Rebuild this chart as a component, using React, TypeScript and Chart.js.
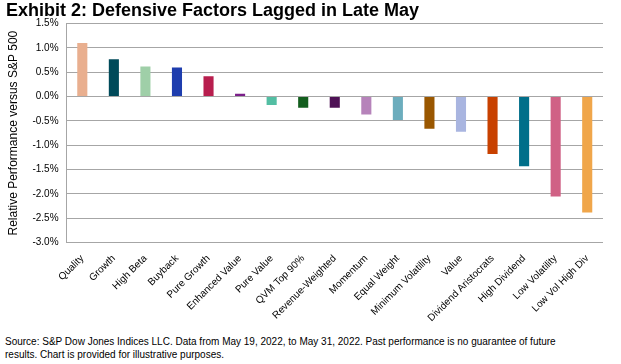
import React, { useEffect, useRef } from "react";
import { Chart, registerables } from "chart.js";

Chart.register(...registerables);

const categories = [
  "Quality", "Growth", "High Beta", "Buyback", "Pure Growth", "Enhanced Value",
  "Pure Value", "QVM Top 90%", "Revenue-Weighted", "Momentum", "Equal Weight",
  "Minimum Volatility", "Value", "Dividend Aristocrats", "High Dividend",
  "Low Volatility", "Low Vol High Div",
];
const relativePerformance = [
  1.1, 0.77, 0.62, 0.6, 0.42, 0.06, -0.17, -0.23, -0.23, -0.37, -0.48,
  -0.66, -0.72, -1.18, -1.43, -2.05, -2.38,
];
const barColors = [
  "#E9AF8F", "#004A5A", "#9FCFA8", "#1E3DAE", "#B81E4E", "#7B1F8A",
  "#53BEA3", "#135E1E", "#4E1155", "#B683BA", "#6CADBD", "#9A5700",
  "#A9B5E0", "#C84100", "#006F8A", "#D06185", "#F0A64A",
];
const yMin = -3.0;
const yMax = 1.5;
const yStep = 0.5;

const titleText = "Exhibit 2: Defensive Factors Lagged in Late May";
const yAxisTitle = "Relative Performance versus S&P 500";
const footerLines = [
  "Source: S&P Dow Jones Indices LLC. Data from May 19, 2022, to May 31, 2022. Past performance is no guarantee of future",
  "results. Chart is provided for illustrative purposes.",
];

const FONT = "Arial, 'Liberation Sans', sans-serif";

export default function App() {
  const ref = useRef<HTMLCanvasElement | null>(null);
  useEffect(() => {
    document.body.style.margin = "0";
    const chart = new Chart(ref.current!, {
      type: "bar",
      data: {
        labels: categories,
        datasets: [
          {
            data: relativePerformance,
            backgroundColor: barColors,
            barPercentage: 0.32,
            categoryPercentage: 1,
          },
        ],
      },
      options: {
        animation: false,
        responsive: false,
        maintainAspectRatio: false,
        layout: { padding: { left: 6, right: 18, top: 0, bottom: 0 } },
        plugins: {
          legend: { display: false },
          tooltip: { enabled: false },
          title: {
            display: true,
            text: titleText,
            align: "start",
            color: "#000",
            font: { family: FONT, size: 18, weight: "bold" },
            padding: { top: 0, bottom: 2 },
          },
        },
        scales: {
          x: {
            grid: { display: false },
            border: { display: false },
            ticks: {
              color: "#000",
              font: { family: FONT, size: 10 },
              minRotation: 45,
              maxRotation: 45,
              autoSkip: false,
              padding: 2,
            },
          },
          y: {
            min: yMin,
            max: yMax,
            grid: { color: "#A6A6A6", lineWidth: 1, drawTicks: false },
            border: { display: true, color: "#A6A6A6" },
            ticks: {
              stepSize: yStep,
              color: "#000",
              font: { family: FONT, size: 10 },
              padding: 8,
              callback: (v: any) => Number(v).toFixed(1) + "%",
            },
            title: {
              display: true,
              text: yAxisTitle,
              color: "#000",
              font: { family: FONT, size: 12 },
              padding: { top: 0, bottom: 4 },
            },
          },
        },
      },
    });
    return () => chart.destroy();
  }, []);
  return (
    <div style={{ position: "relative", width: 621, height: 364, background: "#fff", overflow: "hidden" }}>
      <canvas ref={ref} width={621} height={326} style={{ position: "absolute", left: 0, top: 0 }} />
      <div
        style={{
          position: "absolute",
          left: 5,
          top: 335,
          fontFamily: FONT,
          fontSize: 10,
          lineHeight: "13px",
          color: "#000",
          whiteSpace: "nowrap",
        }}
      >
        {footerLines.map((l, i) => (
          <div key={i}>{l}</div>
        ))}
      </div>
    </div>
  );
}
